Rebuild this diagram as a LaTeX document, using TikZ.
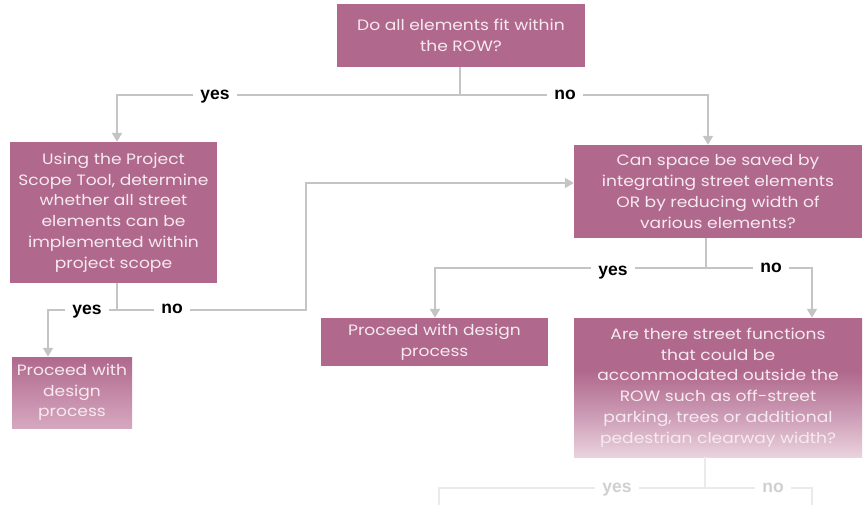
\documentclass[tikz,border=0pt]{standalone}
\usepackage{fontspec}
\setmainfont[FakeStretch=1.14]{Poppins}
\newfontfamily\lblfont{Liberation Sans}
\usetikzlibrary{arrows.meta}
\definecolor{boxc}{RGB}{176,104,140}
\definecolor{boxtxt}{RGB}{246,234,240}
\definecolor{linec}{RGB}{196,196,196}
\definecolor{fadec}{RGB}{234,234,234}
\definecolor{fadetxt}{RGB}{208,208,208}
\definecolor{lightA}{RGB}{234,210,222}
\definecolor{midA}{RGB}{204,156,181}
\definecolor{lightB}{RGB}{214,168,192}
\pgfdeclareverticalshading{fadeA}{100bp}{color(0bp)=(lightA); color(25bp)=(lightA); color(40bp)=(midA); color(56bp)=(boxc); color(100bp)=(boxc)}
\begin{document}
\begin{tikzpicture}[x=1pt,y=-1pt,
  box/.style={fill=boxc, text=boxtxt, align=center, inner sep=0pt, font=\fontsize{15}{20.7}\selectfont},
  conn/.style={draw=linec, line width=2pt},
  arr/.style={conn, -{Triangle[width=10pt,length=9pt]}},
  fconn/.style={draw=fadec, line width=2pt},
  lbl/.style={fill=white, inner xsep=7pt, inner ysep=3pt, text height=8.8pt, text depth=0pt, text=black, font=\lblfont\bfseries\fontsize{17.5}{17.5}\selectfont},
  flbl/.style={lbl, text=fadetxt}]
\useasboundingbox (0,0) rectangle (865,505);

% boxes
\node[box, minimum width=248pt, minimum height=63pt] (b1) at (461,35.5) {Do all elements fit within\\the ROW?};
\node[box, minimum width=207pt, minimum height=141pt] (b2) at (113.5,212.5) {Using the Project\\Scope Tool, determine\\whether all street\\elements can be\\implemented within\\project scope};
\node[box, minimum width=288pt, minimum height=93pt] (b3) at (718,191.5) {Can space be saved by\\integrating street elements\\OR by reducing width of\\various elements?};
\node[box, minimum width=227pt, minimum height=48pt] (b4) at (434.5,342) {Proceed with design\\process};
\node[box, fill=none, shading=fadeA, minimum width=288pt, minimum height=139pt] (b5) at (718,387.5) {Are there street functions\\that could be\\accommodated outside the\\ROW such as off-street\\parking, trees or additional\\pedestrian clearway width?};
\node[box, fill=none, top color=boxc, bottom color=lightB, minimum width=120pt, minimum height=71pt] (b6) at (72,392.5) {Proceed with\\design\\process};

% first decision
\coordinate (j1) at (460,95);
\coordinate (j1l) at (117,95);
\coordinate (j1r) at (708,95);
\draw[conn] (b1.south -| j1) -- (j1);
\draw[arr] (j1) -- (j1l) -- (b2.north -| j1l);
\draw[arr] (j1) -- (j1r) -- (b3.north -| j1r);
\node[lbl] (y1) at (215,95) {yes};
\node[lbl] (n1) at (565,95) {no};

% second decision
\coordinate (j2) at (117,310);
\coordinate (j2l) at (48,310);
\coordinate (j2r) at (306,310);
\coordinate (j2u) at (306,183);
\draw[conn] (b2.south -| j2) -- (j2);
\draw[arr] (j2) -- (j2l) -- (b6.north -| j2l);
\draw[arr] (j2) -- (j2r) -- (j2u) -- (b3.west |- j2u);
\node[lbl] (y2) at (87,310) {yes};
\node[lbl] (n2) at (172,309) {no};

% third decision
\coordinate (j3) at (706,268);
\coordinate (j3l) at (435,268);
\coordinate (j3r) at (812,268);
\draw[conn] (b3.south -| j3) -- (j3);
\draw[arr] (j3) -- (j3l) -- (b4.north -| j3l);
\draw[arr] (j3) -- (j3r) -- (b5.north -| j3r);
\node[lbl] (y3) at (613,271) {yes};
\node[lbl] (n3) at (771,268) {no};

% fourth decision (faded)
\coordinate (j4) at (705,488);
\coordinate (j4l) at (439,488);
\coordinate (j4r) at (812,488);
\coordinate (e4l) at (439,505);
\coordinate (e4r) at (812,505);
\draw[fconn] (b5.south -| j4) -- (j4);
\draw[fconn] (e4l) -- (j4l) -- (j4) -- (j4r) -- (e4r);
\node[flbl] (y4) at (617,488) {yes};
\node[flbl] (n4) at (773,488) {no};
\end{tikzpicture}
\end{document}
